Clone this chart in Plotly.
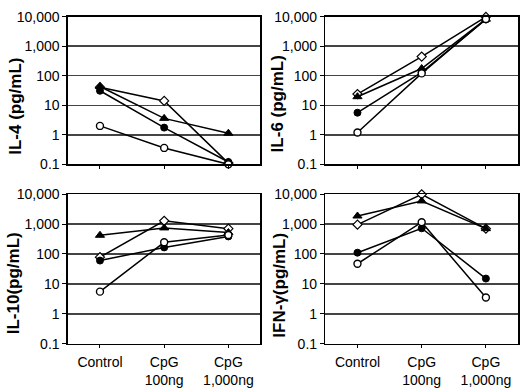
import plotly.graph_objects as go

# ---- data ----
categories = ["Control", "CpG<br>100ng", "CpG<br>1,000ng"]
ytick_vals = [0.1, 1, 10, 100, 1000, 10000]
ytick_text = ["0.1", "1", "10", "100", "1,000", "10,000"]

il4_diamond = [41, 14, 0.11]
il4_triangle = [43, 3.6, 1.13]
il4_filled = [31, 1.75, 0.12]
il4_open = [2.0, 0.36, 0.1]

il6_diamond = [24, 445, 9800]
il6_triangle = [19.5, 175, 8200]
il6_filled = [5.6, 130, 8000]
il6_open = [1.2, 120, 8300]

il10_diamond = [78, 1280, 700]
il10_triangle = [420, 740, 520]
il10_filled = [60, 165, 385]
il10_open = [5.5, 245, 430]

ifn_diamond = [950, 9800, 700]
ifn_triangle = [1850, 5900, 700]
ifn_filled = [110, 720, 15]
ifn_open = [47, 1150, 3.5]

titles = ["IL-4 (pg/mL)", "IL-6 (pg/mL)", "IL-10(pg/mL)", "IFN-γ(pg/mL)"]

panels = [
    (il4_diamond, il4_triangle, il4_filled, il4_open),
    (il6_diamond, il6_triangle, il6_filled, il6_open),
    (il10_diamond, il10_triangle, il10_filled, il10_open),
    (ifn_diamond, ifn_triangle, ifn_filled, ifn_open),
]

W, H = 520, 392
FONT = "Arial, Liberation Sans, Helvetica, sans-serif"

# plot boxes in pixels: (left, right, top, bottom)
boxes = [(68, 261, 9, 163), (326, 519, 9, 163), (68, 261, 194, 350), (326, 519, 194, 350)]
title_pos = [(16, 102), (278, 100), (13, 287), (280, 289)]

styles = [
    dict(symbol="diamond", size=7, color="white", line=dict(color="black", width=1.2)),
    dict(symbol="triangle-up", size=8, color="black", line=dict(color="black", width=1)),
    dict(symbol="circle", size=7, color="black", line=dict(color="black", width=1)),
    dict(symbol="circle", size=7, color="white", line=dict(color="black", width=1.4)),
]

fig = go.Figure()
xs = list(range(len(categories)))
layout = {}
for i, (series, box) in enumerate(zip(panels, boxes)):
    ax = "" if i == 0 else str(i + 1)
    for vals, st in zip(series, styles):
        fig.add_trace(go.Scatter(
            x=xs, y=vals, mode="lines+markers",
            line=dict(color="black", width=1.5),
            marker=st, cliponaxis=False, showlegend=False,
            xaxis="x" + ax, yaxis="y" + ax,
        ))
    l, r, t, b = box
    bottom_row = i >= 2
    layout["xaxis" + ax] = dict(
        domain=[l / W, r / W], anchor="y" + ax, range=[-0.5, 2.5],
        tickvals=xs, ticktext=categories if bottom_row else ["", "", ""],
        showticklabels=bottom_row, ticklabelstandoff=2,
        ticks="outside", ticklen=3, tickcolor="black", tickwidth=1,
        showline=True, mirror=True, linecolor="black", linewidth=1.5,
        showgrid=False, zeroline=False,
        tickfont=dict(family=FONT, size=14, color="black"),
    )
    layout["yaxis" + ax] = dict(
        domain=[1 - b / H, 1 - t / H], anchor="x" + ax, type="log", range=[-1, 4],
        tickvals=ytick_vals, ticktext=ytick_text,
        ticks="outside", ticklen=4, tickcolor="black", tickwidth=1,
        showline=True, mirror=True, linecolor="black", linewidth=1.5,
        showgrid=True, gridcolor="#444444", gridwidth=1.5, zeroline=False,
        tickfont=dict(family=FONT, size=14, color="black"),
    )

annotations = []
for (tx, ty), txt in zip(title_pos, titles):
    annotations.append(dict(
        x=tx / W, y=1 - ty / H, xref="paper", yref="paper",
        text="<b>" + txt + "</b>", textangle=-90, showarrow=False,
        xanchor="center", yanchor="middle",
        font=dict(family=FONT, size=17, color="black"),
    ))

fig.update_layout(
    width=W, height=H, margin=dict(l=0, r=0, t=0, b=0),
    paper_bgcolor="white", plot_bgcolor="white",
    annotations=annotations, **layout,
)
fig.write_html(
    "out.html",
    config={"displayModeBar": False, "staticPlot": True},
    post_script="document.body.style.margin='0';document.body.style.padding='0';",
)
